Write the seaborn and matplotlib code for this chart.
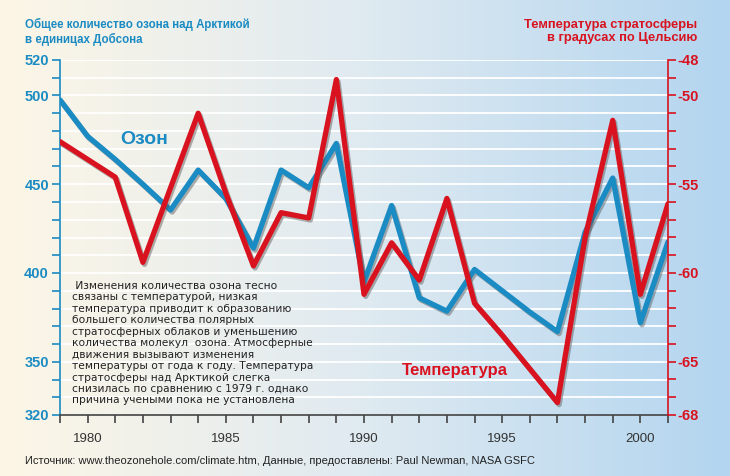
import numpy as np
import pandas as pd
import matplotlib
matplotlib.use("Agg")
import matplotlib.pyplot as plt
import matplotlib.patheffects as pe
from matplotlib.colors import LinearSegmentedColormap
import seaborn as sns

years = list(range(1979, 2002))
ozone = [497.5, 477, 464, 450, 435.5, 458, 442, 414, 458, 448, 473,
         395, 438, 386, 378.5, 402, 390, 378, 367, 423, 453.5, 372, 417.5]
temperature = [-52.6, -53.6, -54.6, -59.4, -55.2, -51.0, -55.5, -59.6, -56.6, -56.9, -49.1,
               -61.2, -58.3, -60.4, -55.8, -61.7, -63.5, -65.4, -67.3, -58.0, -51.4, -61.2, -56.1]
ozone_ticks = [320, 350, 400, 450, 500, 520]
temp_ticks = [-68, -65, -60, -55, -50, -48]
year_ticks = [1980, 1985, 1990, 1995, 2000]

BLUE = "#1a8bc3"
RED = "#d9121f"
FONT = "Liberation Sans"

sns.set_theme(style="white")
plt.rcParams["font.family"] = [FONT, "DejaVu Sans"]

df = pd.DataFrame({"year": years, "ozone": ozone, "temp": temperature})

fig = plt.figure(figsize=(7.30, 4.76), dpi=100)

# background gradient
bg = fig.add_axes([0, 0, 1, 1], zorder=-10)
cmap = LinearSegmentedColormap.from_list("bg", ["#fdf6e6", "#dfeaf1", "#b3d5ef"])
grad = np.linspace(0, 1, 256).reshape(1, -1)
bg.imshow(grad, aspect="auto", cmap=cmap, extent=[0, 1, 0, 1])
bg.set_axis_off()

ax = fig.add_axes([60 / 730, 1 - 415 / 476, (668 - 60) / 730, (415 - 60) / 476])
ax.patch.set_alpha(0)
ax2 = ax.twinx()
ax2.patch.set_alpha(0)

ax.set_xlim(1979, 2001)
ax.set_ylim(320, 520)
ax2.set_ylim(-68, -48)

# grid lines
for v in range(330, 521, 10):
    ax.axhline(v, color="white", lw=1.3, zorder=0)

shadow = [pe.SimpleLineShadow(offset=(1.2, -1.5), shadow_color="#555555", alpha=0.45),
          pe.Normal()]

sns.lineplot(data=df, x="year", y="temp", ax=ax2, color=RED, lw=3.8,
             path_effects=shadow, zorder=3)
sns.lineplot(data=df, x="year", y="ozone", ax=ax, color=BLUE, lw=3.8,
             path_effects=shadow, zorder=2)
ax2.set_zorder(ax.get_zorder() + 1)

# spines
for s in ["top"]:
    ax.spines[s].set_visible(False)
    ax2.spines[s].set_visible(False)
ax.spines["right"].set_visible(False)
ax2.spines["left"].set_visible(False)
ax2.spines["bottom"].set_visible(False)
ax.spines["left"].set_color(BLUE)
ax.spines["left"].set_linewidth(1.2)
ax2.spines["right"].set_color(RED)
ax2.spines["right"].set_linewidth(1.2)
ax.spines["bottom"].set_color("#444444")
ax.spines["bottom"].set_linewidth(1.2)

ax.set_yticks(ozone_ticks)
ax.set_yticks(list(range(320, 521, 10)), minor=True)
ax.set_yticklabels([str(t) for t in ozone_ticks], fontweight="bold", color=BLUE, fontsize=10.5)
ax.tick_params(axis="y", which="both", direction="out", length=6, width=1.2, color=BLUE,
               left=True, pad=2)

ax2.set_yticks(temp_ticks)
ax2.set_yticks(list(range(-68, -47)), minor=True)
ax2.set_yticklabels([str(t) for t in temp_ticks], fontweight="bold", color=RED, fontsize=10.5)
ax2.tick_params(axis="y", which="both", direction="out", length=6, width=1.2, color=RED,
                right=True, pad=1)

ax.set_xticks(year_ticks)
ax.set_xticks(years, minor=True)
ax.set_xticklabels([str(t) for t in year_ticks], color="#333333", fontsize=9.5)
ax.tick_params(axis="x", which="both", direction="out", length=6, width=1.2, color="#444444",
               bottom=True, pad=7)
ax.set_xlabel("")
ax.set_ylabel("")
ax2.set_ylabel("")

# titles
fig.text(25 / 730, 1 - 18 / 476, "Общее количество озона над Арктикой\nв единицах Добсона",
         color=BLUE, fontweight="bold", fontsize=8.3, ha="left", va="top", linespacing=1.15)
fig.text(697 / 730, 1 - 19 / 476, "Температура стратосферы\nв градусах по Цельсию",
         color=RED, fontweight="bold", fontsize=9.3, ha="right", va="top", linespacing=1.1,
         multialignment="right")

# series labels
ax.text(1981.17, 475, "Озон", color=BLUE, fontweight="bold", fontsize=14, ha="left", va="center")
ax.text(1991.38, 345, "Температура", color=RED, fontweight="bold", fontsize=12, ha="left", va="center")

note = (" Изменения количества озона тесно\n"
        "связаны с температурой, низкая\n"
        "температура приводит к образованию\n"
        "большего количества полярных\n"
        "стратосферных облаков и уменьшению\n"
        "количества молекул  озона. Атмосферные\n"
        "движения вызывают изменения\n"
        "температуры от года к году. Температура\n"
        "стратосферы над Арктикой слегка\n"
        "снизилась по сравнению с 1979 г. однако\n"
        "причина учеными пока не установлена")
fig.text(72 / 730, 1 - 281 / 476, note, color="#222222", fontsize=7.7, ha="left", va="top",
         linespacing=1.18, family=["DejaVu Sans"])

fig.text(25 / 730, 1 - 461 / 476,
         "Источник: www.theozonehole.com/climate.htm, Данные, предоставлены: Paul Newman, NASA GSFC",
         color="#222222", fontsize=8, ha="left", va="center")

fig.savefig("out.png", dpi=100)
